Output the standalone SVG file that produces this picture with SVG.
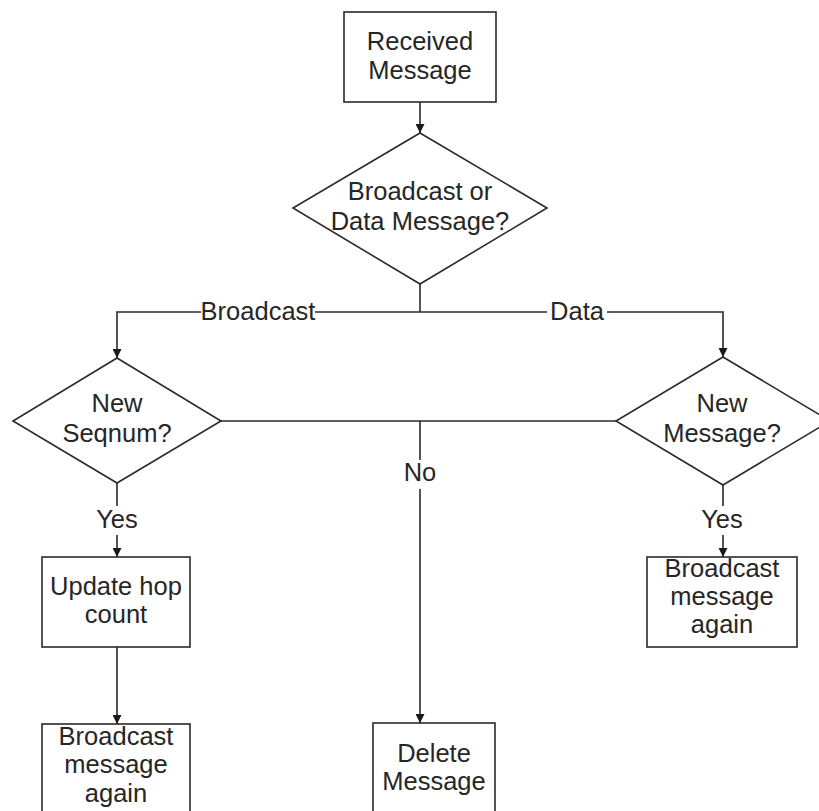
<svg xmlns="http://www.w3.org/2000/svg" width="819" height="811" viewBox="0 0 819 811">
  <style>
    .box { fill: #ffffff; stroke: #2a2a2a; stroke-width: 1.6; }
    .lbl { font-family: "Liberation Sans", Arial, sans-serif; font-size: 25.5px; fill: #262626; text-anchor: middle; }
    .wire { fill: none; stroke: #2a2a2a; stroke-width: 1.6; }
    .arrow { marker-end: url(#head); }
  </style>
  <defs>
    <marker id="head" viewBox="0 0 10 10" refX="10" refY="5" markerWidth="10" markerHeight="9" markerUnits="userSpaceOnUse" orient="auto">
      <path d="M0,0 L10,5 L0,10 Z" fill="#1a1a1a"/>
    </marker>
  </defs>
  <rect width="819" height="811" fill="#ffffff"/>

  <g id="connectors">
    <path class="wire arrow" d="M420,102 V133"/>
    <path class="wire" d="M420,284 V312"/>
    <path class="wire arrow" d="M201,312 H117 V358"/>
    <path class="wire" d="M315,312 H547"/>
    <path class="wire arrow" d="M607,312 H723 V357"/>
    <text class="lbl" x="258" y="320">Broadcast</text>
    <text class="lbl" x="577" y="320">Data</text>
    <path class="wire" d="M221,421 H616"/>
    <path class="wire" d="M420,421 V460"/>
    <text class="lbl" x="420" y="481">No</text>
    <path class="wire arrow" d="M420,489 V723"/>
    <path class="wire" d="M117,483 V506"/>
    <text class="lbl" x="117" y="528">Yes</text>
    <path class="wire arrow" d="M117,535 V557"/>
    <path class="wire" d="M723,485 V506"/>
    <text class="lbl" x="722" y="528">Yes</text>
    <path class="wire arrow" d="M723,535 V557"/>
    <path class="wire arrow" d="M117,647 V724"/>
  </g>

  <g id="received">
    <rect class="box" x="344" y="12" width="152" height="90"/>
    <text class="lbl" x="420" y="50">Received</text>
    <text class="lbl" x="420" y="79">Message</text>
  </g>

  <g id="msg-type">
    <polygon class="box" points="420,133 547,208 420,284 293,208"/>
    <text class="lbl" x="420" y="200">Broadcast or</text>
    <text class="lbl" x="420" y="230">Data Message?</text>
  </g>

  <g id="new-seqnum">
    <polygon class="box" points="117,358 221,421 117,483 13,421"/>
    <text class="lbl" x="117" y="412">New</text>
    <text class="lbl" x="117" y="442">Seqnum?</text>
  </g>

  <g id="new-message">
    <polygon class="box" points="723,357 830,421 723,485 616,421"/>
    <text class="lbl" x="722" y="412">New</text>
    <text class="lbl" x="722" y="442">Message?</text>
  </g>

  <g id="update-hop">
    <rect class="box" x="42" y="557" width="148" height="90"/>
    <text class="lbl" x="116" y="595">Update hop</text>
    <text class="lbl" x="116" y="623">count</text>
  </g>

  <g id="rebroadcast-left">
    <rect class="box" x="42" y="724" width="148" height="100"/>
    <text class="lbl" x="116" y="745">Broadcast</text>
    <text class="lbl" x="116" y="773">message</text>
    <text class="lbl" x="116" y="802">again</text>
  </g>

  <g id="delete">
    <rect class="box" x="373" y="723" width="122" height="100"/>
    <text class="lbl" x="434" y="762">Delete</text>
    <text class="lbl" x="434" y="790">Message</text>
  </g>

  <g id="rebroadcast-right">
    <rect class="box" x="647" y="557" width="150" height="90"/>
    <text class="lbl" x="722" y="577">Broadcast</text>
    <text class="lbl" x="722" y="605">message</text>
    <text class="lbl" x="722" y="633">again</text>
  </g>
</svg>
